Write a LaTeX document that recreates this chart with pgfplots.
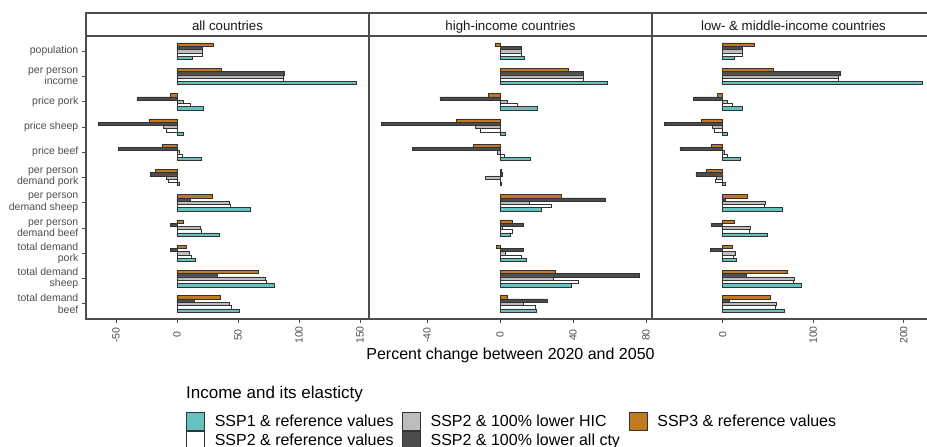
\documentclass[border=0pt]{standalone}
\usepackage{fontspec}
\setmainfont{Liberation Sans}
\usepackage{pgfplots}
\usepackage{pgfplotstable}
\pgfplotsset{compat=1.18}
\definecolor{cteal}{HTML}{66C2BE}
\definecolor{corange}{HTML}{C27A20}
\definecolor{clgray}{HTML}{BDBDBD}
\definecolor{cdark}{HTML}{4D4D4D}
\definecolor{cframe}{HTML}{4D4D4D}
\definecolor{ctext}{HTML}{4D4D4D}
\definecolor{cedge}{HTML}{333333}

% columns: o = SSP3 ref, d = SSP2 100% lower all cty, g = SSP2 100% lower HIC, w = SSP2 ref, t = SSP1 ref
\pgfplotstableread{
y  o      d      g      w      t
0  30     20.5   20.5   20.5   12.5
1  36     88.3   87.4   87.4   146.7
2  -5.5   -32.8  5.2    10.7   21.6
3  -23    -64.8  -11.2  -9     5.2
4  -12.3  -47.8  1.6    4.6    20
5  -17.5  -21.6  -8.7   -6.8   2.2
6  28.7   11.2   42.9   44     60.1
7  5.2    -5.2   19.1   20     34.4
8  7.4    -5.2   10.1   12     15
9  66.4   33.3   72.4   73.2   80
10 35.8   14.5   42.9   44.5   51.1
}\tabA

\pgfplotstableread{
y  o      d      g      w      t
0  -2.6   11.9   11.9   11.9   13.5
1  37.3   45.8   45.7   45.7   58.6
2  -6.4   -32.9  3.7    9.3    20.5
3  -23.9  -65    -13.3  -11    2.9
4  -14.6  -48    -1.5   2.2    16.6
5  0.5    1.2    -8.2   0.3    0.5
6  33.8   57.9   15.9   27.9   22.8
7  6.8    13     1.3    6.9    5.8
8  -2     13     2.9    11.7   14.4
9  30.3   76.2   29.2   42.9   39.3
10 4      26.1   13     19.4   19.9
}\tabB

\pgfplotstableread{
y  o      d      g      w      t
0  35.4   22.1   22.1   22.1   12.5
1  56.4   129.7  128.2  128.2  220.6
2  -5.5   -32.4  5.5    10.7   22.1
3  -23.2  -64.5  -11.4  -9.2   5.5
4  -12.5  -47.2  1.8    4.8    19.9
5  -17.7  -29.5  -6.6   -8.1   3.3
6  27.6   3.3    46.8   45.7   65.9
7  12.9   -12.2  30.6   29.8   49.7
8  11     -14    13.6   12.2   15.5
9  71.8   26.5   79.2   78.1   86.6
10 53     7.4    59.3   58.2   68.5
}\tabC

\pgfplotsset{
 panel/.style={
  width=283pt, height=283pt, scale only axis, anchor=south west,
  y dir=reverse, ymin=-0.6, ymax=10.6,
  axis line style={draw=cframe, line width=1.1pt},
  tick style={draw=cframe, line width=0.9pt},
  tick align=outside, major tick length=4pt,
  xtick pos=bottom, ytick pos=left,
  xticklabel style={font=\fontsize{10.5}{12}\selectfont, text=ctext, yshift=-12pt, rotate=90, anchor=center},
  yticklabel style={font=\fontsize{10.5}{11.3}\selectfont, text=ctext, align=right, anchor=east, inner sep=0pt, xshift=-3.5pt},
 },
 bars/.style={xbar, bar width=0.13, draw=cedge, line width=0.5pt, forget plot},
 sqkey/.style={legend image code/.code={\draw[##1] (0pt,-9pt) rectangle (18pt,9pt);}},
}

\begin{document}
\begin{tikzpicture}
% ---------------- panel 1 ----------------
\begin{axis}[panel, at={(86pt,128pt)},
  xmin=-74.6, xmax=157.4,
  xtick={-50,0,50,100,150}, xticklabels={-50,0,50,100,150},
  ytick={0,1,2,3,4,5,6,7,8,9,10},
  yticklabels={population, {per person\\income}, price pork, price sheep, price beef,
    {per person\\demand pork}, {per person\\demand sheep}, {per person\\demand beef},
    {total demand\\pork}, {total demand\\sheep}, {total demand\\beef}},
  legend columns=3,
  legend cell align=left,
  legend style={at={(0.35336,-0.32862)}, anchor=north west, draw=none, fill=none,
    inner sep=0pt, outer sep=0pt, row sep=0pt, column sep=0pt,
    font=\fontsize{16}{19}\selectfont, nodes={inner sep=0pt},
    /tikz/every odd column/.append style={column sep=10pt}},
]
\addplot[bars, fill=corange, bar shift=-0.26] table[x=o, y=y] {\tabA};
\addplot[bars, fill=cdark,   bar shift=-0.13] table[x=d, y=y] {\tabA};
\addplot[bars, fill=clgray,  bar shift=0]     table[x=g, y=y] {\tabA};
\addplot[bars, fill=white,   bar shift=0.13]  table[x=w, y=y] {\tabA};
\addplot[bars, fill=cteal,   bar shift=0.26]  table[x=t, y=y] {\tabA};
\addlegendimage{sqkey, fill=cteal, draw=cedge, line width=0.8pt}
\addlegendentry{\makebox[187pt][l]{SSP1 \& reference values}}
\addlegendimage{sqkey, fill=clgray, draw=cedge, line width=0.8pt}
\addlegendentry{\makebox[198pt][l]{SSP2 \& 100\% lower HIC}}
\addlegendimage{sqkey, fill=corange, draw=cedge, line width=0.8pt}
\addlegendentry{SSP3 \& reference values}
\addlegendimage{sqkey, fill=white, draw=cedge, line width=0.8pt}
\addlegendentry{\makebox[187pt][l]{SSP2 \& reference values}}
\addlegendimage{sqkey, fill=cdark, draw=cedge, line width=0.8pt}
\addlegendentry{\makebox[198pt][l]{SSP2 \& 100\% lower all cty}}
\end{axis}
% ---------------- panel 2 ----------------
\begin{axis}[panel, at={(369pt,128pt)},
  xmin=-71.8, xmax=83.3,
  xtick={-40,0,40,80}, xticklabels={-40,0,40,80},
  ytick=\empty,
]
\addplot[bars, fill=corange, bar shift=-0.26] table[x=o, y=y] {\tabB};
\addplot[bars, fill=cdark,   bar shift=-0.13] table[x=d, y=y] {\tabB};
\addplot[bars, fill=clgray,  bar shift=0]     table[x=g, y=y] {\tabB};
\addplot[bars, fill=white,   bar shift=0.13]  table[x=w, y=y] {\tabB};
\addplot[bars, fill=cteal,   bar shift=0.26]  table[x=t, y=y] {\tabB};
\end{axis}
% ---------------- panel 3 ----------------
\begin{axis}[panel, at={(652pt,128pt)},
  xmin=-78.1, xmax=234.6,
  xtick={0,100,200}, xticklabels={0,100,200},
  ytick=\empty,
]
\addplot[bars, fill=corange, bar shift=-0.26] table[x=o, y=y] {\tabC};
\addplot[bars, fill=cdark,   bar shift=-0.13] table[x=d, y=y] {\tabC};
\addplot[bars, fill=clgray,  bar shift=0]     table[x=g, y=y] {\tabC};
\addplot[bars, fill=white,   bar shift=0.13]  table[x=w, y=y] {\tabC};
\addplot[bars, fill=cteal,   bar shift=0.26]  table[x=t, y=y] {\tabC};
\end{axis}
% ---------------- strips ----------------
\draw[cframe, line width=1.1pt] (86pt,411pt) rectangle (935pt,434pt);
\draw[cframe, line width=1.1pt] (369pt,411pt) -- (369pt,434pt);
\draw[cframe, line width=1.1pt] (652pt,411pt) -- (652pt,434pt);
\node[font=\fontsize{13.3}{16}\selectfont, text=black!90, anchor=base, inner sep=0pt] at (227.5pt,416.3pt) {all countries};
\node[font=\fontsize{13.3}{16}\selectfont, text=black!90, anchor=base, inner sep=0pt] at (510.5pt,416.3pt) {high-income countries};
\node[font=\fontsize{13.3}{16}\selectfont, text=black!90, anchor=base, inner sep=0pt] at (793.5pt,416.3pt) {low- \& middle-income countries};
% ---------------- titles ----------------
\node[font=\fontsize{16}{19}\selectfont, anchor=base, inner sep=0pt] at (510.5pt,87pt) {Percent change between 2020 and 2050};
\node[font=\fontsize{17}{20}\selectfont, anchor=base west, inner sep=0pt] at (186pt,48pt) {Income and its elasticty};
\pgfresetboundingbox
\path[use as bounding box] (0pt,0pt) rectangle (927pt,447pt);
\end{tikzpicture}
\end{document}
